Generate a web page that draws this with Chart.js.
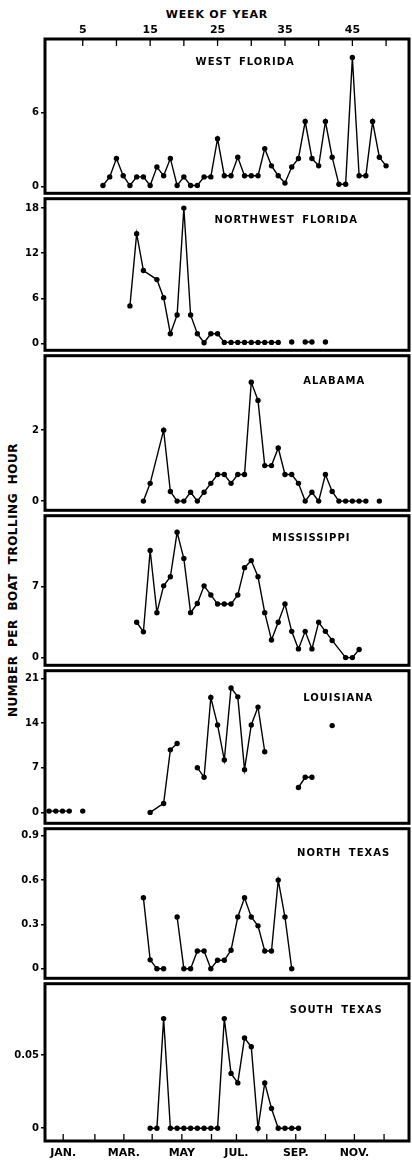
<!DOCTYPE html>
<html>
<head>
<meta charset="utf-8">
<script src="https://cdn.jsdelivr.net/npm/chart.js@4.4.0/dist/chart.umd.min.js"></script>
<style>
  body { margin: 0; background: #fff; }
  #wrap { position: relative; width: 412px; height: 1164px; overflow: hidden; font-family: 'DejaVu Sans', sans-serif; }
  #wrap canvas { position: absolute; left: 0; }
  .axis-title { position: absolute; font-weight: bold; color: #000; white-space: nowrap; text-align: center; }
  #weekTitle { left: 117px; top: 8px; width: 200px; font-size: 11px; line-height: 14px; letter-spacing: 0.8px; }
  #yTitle { left: -137px; top: 573px; width: 300px; font-size: 12px; line-height: 14px; letter-spacing: 0.5px; word-spacing: 4px; transform: rotate(-90deg); }
</style>
</head>
<body>
<div id="wrap">
  <div class="axis-title" id="weekTitle">WEEK OF YEAR</div>
  <div class="axis-title" id="yTitle">NUMBER PER BOAT TROLLING HOUR</div>
</div>
<script>
// week-of-year axis (top) and month axis (bottom)
const weekTicks = [5, 10, 15, 20, 25, 30, 35, 40, 45, 50];
const weekTickLabels = ['5', '', '15', '', '25', '', '35', '', '45', ''];
const monthTickWeeks = [2.1, 6.8, 11.1, 15.3, 19.7, 24.1, 27.8, 32.3, 36.6, 41.0, 45.3, 49.7];
const monthLabels = ['JAN.', '', 'MAR.', '', 'MAY', '', 'JUL.', '', 'SEP.', '', 'NOV.', ''];

// West Florida
const wfWeeks = [8, 9, 10, 11, 12, 13, 14, 15, 16, 17, 18, 19, 20, 21, 22, 23, 24, 25, 26, 27, 28, 29,
  30, 31, 32, 33, 34, 35, 36, 37, 38, 39, 40, 41, 42, 43, 44, 45, 46, 47, 48, 49, 50];
const wfValues = [0.1, 0.8, 2.3, 0.9, 0.1, 0.8, 0.8, 0.1, 1.6, 0.9, 2.3, 0.1, 0.8, 0.1, 0.1, 0.8, 0.8, 3.9, 0.9, 0.9, 2.4, 0.9,
  0.9, 0.9, 3.1, 1.7, 0.9, 0.3, 1.6, 2.3, 5.3, 2.3, 1.7, 5.3, 2.4, 0.2, 0.2, 10.5, 0.9, 0.9, 5.3, 2.4, 1.7];
const wfTicks = [0, 6];

// Northwest Florida
const nwfWeeks = [12, 13, 14, 16, 17, 18, 19, 20, 21, 22, 23, 24, 25, 26, 27, 28, 29, 30, 31, 32, 33, 34,
  35, 36, 37, 38, 39, 40, 41];
const nwfValues = [5.0, 14.6, 9.7, 8.5, 6.1, 1.3, 3.8, 18.0, 3.8, 1.3, 0.1, 1.3, 1.3, 0.15, 0.15, 0.15, 0.15, 0.15, 0.15, 0.15, 0.15, 0.15,
  null, 0.2, null, 0.2, 0.2, null, 0.2];
const nwfTicks = [0, 6, 12, 18];

// Alabama
const alWeeks = [14, 15, 17, 18, 19, 20, 21, 22, 23, 24, 25, 26, 27, 28, 29, 30, 31, 32, 33, 34, 35, 36,
  37, 38, 39, 40, 41, 42, 43, 44, 45, 46, 47, 48, 49];
const alValues = [0, 0.5, 2.0, 0.27, 0, 0, 0.25, 0, 0.25, 0.5, 0.75, 0.75, 0.5, 0.75, 0.75, 3.35, 2.84, 1.0, 1.0, 1.5, 0.75, 0.75,
  0.5, 0, 0.25, 0, 0.75, 0.27, 0, 0, 0, 0, 0, null, 0];
const alTicks = [0, 2];

// Mississippi
const msWeeks = [13, 14, 15, 16, 17, 18, 19, 20, 21, 22, 23, 24, 25, 26, 27, 28, 29, 30, 31, 32, 33, 34,
  35, 36, 37, 38, 39, 40, 41, 42, 44, 45, 46];
const msValues = [3.5, 2.55, 10.6, 4.45, 7.1, 8.0, 12.4, 9.8, 4.45, 5.35, 7.1, 6.2, 5.3, 5.3, 5.3, 6.2, 8.9, 9.6, 8.0, 4.45, 1.75, 3.5,
  5.3, 2.6, 0.86, 2.6, 0.86, 3.5, 2.6, 1.7, 0, 0, 0.8];
const msTicks = [0, 7];

// Louisiana
const laWeeks = [0, 1, 2, 3, 4, 5, 10, 15, 17, 18, 19, 20, 22, 23, 24, 25, 26, 27, 28, 29, 30, 31, 32,
  33, 37, 38, 39, 40, 42];
const laValues = [0.2, 0.2, 0.2, 0.2, null, 0.2, null, 0, 1.4, 9.8, 10.8, null, 7.0, 5.5, 18.0, 13.7, 8.2, 19.5, 18.1, 6.7, 13.7, 16.5, 9.5,
  null, 3.9, 5.5, 5.5, null, 13.6];
const laTicks = [0, 7, 14, 21];

// North Texas
const ntWeeks = [14, 15, 16, 17, 18, 19, 20, 21, 22, 23, 24, 25, 26, 27, 28, 29, 30, 31, 32, 33, 34, 35, 36];
const ntValues = [0.48, 0.06, 0, 0, null, 0.35, 0, 0, 0.12, 0.12, 0, 0.057, 0.057, 0.125, 0.35, 0.48, 0.35, 0.29, 0.12, 0.12, 0.6, 0.35, 0];
const ntTicks = [0, 0.3, 0.6, 0.9];

// South Texas
const stWeeks = [15, 16, 17, 18, 19, 20, 21, 22, 23, 24, 25, 26, 27, 28, 29, 30, 31, 32, 33, 34, 35, 36, 37];
const stValues = [0, 0, 0.075, 0, 0, 0, 0, 0, 0, 0, 0, 0.075, 0.0375, 0.031, 0.0617, 0.0557, 0, 0.031, 0.0135, 0, 0, 0, 0];
const stTicks = [0, 0.05];

Chart.defaults.font.family = "'DejaVu Sans', sans-serif";
Chart.defaults.color = '#000';

const weekMin = -0.6;
const weekMax = 53.4;

const panels = [
  { title: 'WEST FLORIDA', weeks: wfWeeks, values: wfValues, ticks: wfTicks, min: -0.53, max: 12, top: 0, height: 196, axis: 'top', titleWeek: 29.1, titleY: 23 },
  { title: 'NORTHWEST FLORIDA', weeks: nwfWeeks, values: nwfValues, ticks: nwfTicks, min: -0.9, max: 19.25, top: 196, height: 157, titleWeek: 35.2, titleY: 22 },
  { title: 'ALABAMA', weeks: alWeeks, values: alValues, ticks: alTicks, min: -0.26, max: 4.1, top: 353, height: 160, titleWeek: 42.3, titleY: 26 },
  { title: 'MISSISSIPPI', weeks: msWeeks, values: msValues, ticks: msTicks, min: -0.76, max: 14.04, top: 513, height: 155, titleWeek: 38.9, titleY: 23 },
  { title: 'LOUISIANA', weeks: laWeeks, values: laValues, ticks: laTicks, min: -1.71, max: 22.2, top: 668, height: 158, titleWeek: 42.9, titleY: 28 },
  { title: 'NORTH TEXAS', weeks: ntWeeks, values: ntValues, ticks: ntTicks, min: -0.065, max: 0.948, top: 826, height: 155, titleWeek: 43.7, titleY: 25 },
  { title: 'SOUTH TEXAS', weeks: stWeeks, values: stValues, ticks: stTicks, min: -0.00875, max: 0.0989, top: 981, height: 183, axis: 'bottom', titleWeek: 42.6, titleY: 27 }
];

// thick frame, inward week/month ticks and the region name
const panelFrame = {
  id: 'panelFrame',
  afterDatasetsDraw(chart, args, opts) {
    const { ctx, chartArea: a, scales } = chart;
    ctx.save();
    ctx.strokeStyle = '#000';
    ctx.lineWidth = 3;
    ctx.strokeRect(a.left, a.top, a.right - a.left, a.bottom - a.top);

    if (opts.axis) {
      const y0 = opts.axis === 'top' ? a.top : a.bottom;
      const dir = opts.axis === 'top' ? 1 : -1;
      ctx.lineWidth = 1.3;
      scales.x.ticks.forEach(t => {
        const px = scales.x.getPixelForValue(t.value);
        ctx.beginPath();
        ctx.moveTo(px, y0);
        ctx.lineTo(px, y0 + dir * 7);
        ctx.stroke();
      });
    }

    ctx.fillStyle = '#000';
    ctx.font = "bold 10px 'DejaVu Sans'";
    ctx.letterSpacing = '1px';
    ctx.wordSpacing = '3px';
    ctx.textAlign = 'center';
    ctx.textBaseline = 'middle';
    ctx.fillText(opts.title, scales.x.getPixelForValue(opts.titleWeek), a.top + opts.titleY);
    ctx.restore();
  }
};

const wrap = document.getElementById('wrap');

panels.forEach(p => {
  const canvas = document.createElement('canvas');
  canvas.width = 412;
  canvas.height = p.height;
  canvas.style.top = p.top + 'px';
  wrap.appendChild(canvas);

  const points = p.weeks.map((w, i) => ({ x: w, y: p.values[i] }));

  new Chart(canvas, {
    type: 'line',
    data: {
      datasets: [{
        data: points,
        borderColor: '#000',
        backgroundColor: '#000',
        borderWidth: 1.4,
        pointRadius: 2.7,
        pointBorderWidth: 0,
        pointHoverRadius: 2.7,
        spanGaps: false,
        tension: 0
      }]
    },
    options: {
      responsive: false,
      animation: false,
      devicePixelRatio: 1,
      events: [],
      layout: { padding: { left: 0, right: 3, top: 0, bottom: 0 } },
      plugins: {
        legend: { display: false },
        tooltip: { enabled: false },
        panelFrame: { title: p.title, titleWeek: p.titleWeek, titleY: p.titleY, axis: p.axis }
      },
      scales: {
        x: {
          type: 'linear',
          min: weekMin,
          max: weekMax,
          position: p.axis || 'bottom',
          display: !!p.axis,
          grid: { display: false, drawTicks: false },
          border: { display: false },
          afterBuildTicks: s => {
            const vals = p.axis === 'top' ? weekTicks : monthTickWeeks;
            s.ticks = vals.map(v => ({ value: v }));
          },
          afterFit: s => {
            s.height = !p.axis ? 0 : (p.axis === 'top' ? 39 : 23);
            s.paddingLeft = 0;
            s.paddingRight = 0;
          },
          ticks: {
            autoSkip: false,
            maxRotation: 0,
            padding: p.axis === 'top' ? 2 : 6,
            font: { size: p.axis === 'top' ? 11 : 11, weight: 'bold' },
            callback: (v, i) => (p.axis === 'top' ? weekTickLabels[i] : monthLabels[i])
          }
        },
        y: {
          min: p.min,
          max: p.max,
          grid: { drawOnChartArea: false, drawTicks: true, tickLength: 4, color: '#000', lineWidth: 1.5 },
          border: { display: false },
          afterBuildTicks: s => { s.ticks = p.ticks.map(v => ({ value: v })); },
          afterFit: s => {
            s.width = 45;
            s.paddingTop = 0;
            s.paddingBottom = 0;
          },
          ticks: {
            padding: 2,
            font: { size: 10, weight: 'bold' },
            callback: v => String(v)
          }
        }
      }
    },
    plugins: [panelFrame]
  });
});
</script>
</body>
</html>
